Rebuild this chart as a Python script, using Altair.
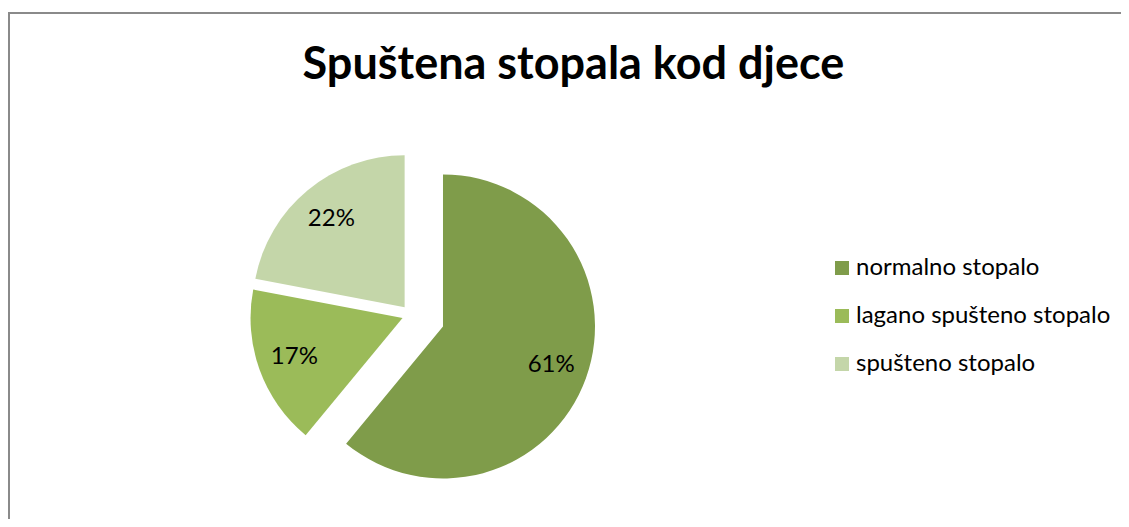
import altair as alt
import pandas as pd

# ---- data ----
categories = ["normalno stopalo", "lagano spušteno stopalo", "spušteno stopalo"]
values = [61, 17, 22]
title_text = "Spuštena stopala kod djece"

# ---- styles ----
colors = ["#7f9c4a", "#9bbb59", "#c4d6a9"]
explode = [34, 9, 10]          # per-slice pull-out (px)
CX, CY, R, LR = 403, 307, 152, 115
FONT = "Lato"

df = pd.DataFrame({
    "category": categories,
    "value": values,
    "order": list(range(len(categories))),
    "explode": explode,
})

base = (
    alt.Chart(df)
    .transform_window(cum="sum(value)", sort=[alt.SortField("order")], frame=[None, 0])
    .transform_joinaggregate(total="sum(value)")
    .transform_calculate(t0="2*PI*(datum.cum - datum.value)/datum.total")
    .transform_calculate(t1="2*PI*datum.cum/datum.total")
    .transform_calculate(mid="(datum.t0 + datum.t1)/2")
    .transform_calculate(cx=f"{CX} + datum.explode*sin(datum.mid)")
    .transform_calculate(cy=f"{CY} - datum.explode*cos(datum.mid)")
    .transform_calculate(lx=f"datum.cx + {LR}*sin(datum.mid)")
    .transform_calculate(ly=f"datum.cy - {LR}*cos(datum.mid)")
    .transform_calculate(pct="format(datum.value/datum.total, '.0%')")
)

arcs = base.mark_arc(radius=R, strokeWidth=0).encode(
    theta=alt.Theta("t0:Q", scale=None, stack=None),
    theta2="t1:Q",
    x=alt.X("cx:Q", scale=None),
    y=alt.Y("cy:Q", scale=None),
    color=alt.Color(
        "category:N",
        scale=alt.Scale(domain=categories, range=colors),
        legend=alt.Legend(
            title=None, orient="none", legendX=822, legendY=248,
            symbolType="square", symbolSize=196, symbolStrokeWidth=0,
            labelFont=FONT, labelFontSize=24, labelColor="black", labelLimit=0,
            rowPadding=24, labelOffset=2, padding=0,
        ),
    ),
)

labels = base.mark_text(font=FONT, fontSize=24, color="black").encode(
    x=alt.X("lx:Q", scale=None),
    y=alt.Y("ly:Q", scale=None),
    text="pct:N",
)

frame_data = alt.Data(values=[{"k": 0}])
border_top = alt.Chart(frame_data).mark_rule(color="#8a8a8a", strokeWidth=2).encode(
    x=alt.value(0), x2=alt.value(1200), y=alt.value(5)
)
border_left = alt.Chart(frame_data).mark_rule(color="#8a8a8a", strokeWidth=2).encode(
    x=alt.value(1), y=alt.value(5), y2=alt.value(700)
)

chart = (
    alt.layer(border_top, border_left, arcs, labels)
    .properties(
        width=1113,
        height=511,
        padding=0,
        autosize=alt.AutoSizeParams(type="none"),
        title=alt.TitleParams(
            title_text, font=FONT, fontSize=45, fontWeight="bold", color="black",
            anchor="middle", frame="group", baseline="alphabetic", offset=-70,
            dx=9, dy=46,
        ),
    )
    .configure_view(stroke=None)
)

chart.save("out.html", embed_options={"renderer": "svg", "actions": False})
